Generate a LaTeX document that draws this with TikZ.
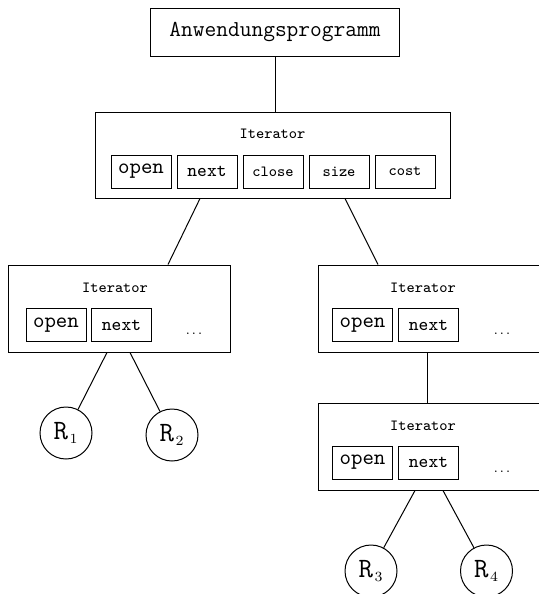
\documentclass[tikz,border=0pt]{standalone}
\usetikzlibrary{calc}
\newcommand{\fAnw}{\fontsize{11.4}{13}\selectfont\ttfamily}
\newcommand{\fOpen}{\fontsize{10.9}{12}\selectfont\ttfamily}
\newcommand{\fNext}{\fontsize{9.3}{11}\selectfont\ttfamily}
\newcommand{\fSmall}{\fontsize{7.75}{9}\selectfont\ttfamily}
\newcommand{\fDots}{\fontsize{5.7}{7}\selectfont\ttfamily}
\newcommand{\Rsub}[1]{{\fontsize{14}{15}\selectfont\ttfamily R}\kern0.8pt{\fontsize{10.5}{12}\selectfont$_{#1}$}}
\begin{document}
\begin{tikzpicture}[x=0.5pt,y=-0.5pt,
  box/.style={draw, line width=0.5pt, inner sep=0pt, anchor=center},
  subbox/.style={draw, line width=0.5pt, inner sep=0pt, minimum width=30pt, minimum height=16.5pt, anchor=center},
  itbox/.style={draw, line width=0.5pt, inner sep=0pt, minimum width=111pt, minimum height=43.5pt, anchor=center},
  title/.style={inner sep=0pt, font=\fSmall, anchor=center},
  dots/.style={inner sep=0pt, font=\fDots, anchor=center},
  leaf/.style={draw, circle, line width=0.5pt, inner sep=0pt, minimum size=26pt, anchor=center},
  conn/.style={line width=0.5pt}]
\useasboundingbox (0,0) rectangle (538,594);

% top
\node[box, minimum width=124.5pt, minimum height=24pt, font=\fAnw] (app) at (275,32) {Anwendungsprogramm};

% main iterator
\node[box, minimum width=177.5pt, minimum height=43pt] (it0) at (272.5,155) {};
\node[title] (t0) at (272.5,134) {Iterator};
\node[subbox, font=\fOpen] (o0) at (141,171.5) {open};
\node[subbox, font=\fNext] (n0) at (207,171.5) {next};
\node[subbox, font=\fSmall] (c0) at (273,171.5) {close};
\node[subbox, font=\fSmall] (s0) at (339,171.5) {size};
\node[subbox, font=\fSmall] (k0) at (405,171.5) {cost};

% left iterator
\node[itbox] (itL) at (119,308.5) {};
\node[title] (tL) at (115,288) {Iterator};
\node[subbox, font=\fOpen] (oL) at (56,325) {open};
\node[subbox, font=\fNext] (nL) at (121.5,325) {next};
\node[dots] (dL) at (194,334) {...};

% right iterator
\node[itbox] (itR) at (429,308.5) {};
\node[title] (tR) at (423,288) {Iterator};
\node[subbox, font=\fOpen] (oR) at (362.5,325) {open};
\node[subbox, font=\fNext] (nR) at (428.5,325) {next};
\node[dots] (dR) at (502,334) {...};

% lower right iterator
\node[itbox] (itR2) at (429,446.5) {};
\node[title] (tR2) at (423,426) {Iterator};
\node[subbox, font=\fOpen] (oR2) at (362.5,462.5) {open};
\node[subbox, font=\fNext] (nR2) at (428.5,462.5) {next};
\node[dots] (dR2) at (502,472) {...};

% leaves
\node[leaf] (R1) at (66,433) {\Rsub{1}};
\node[leaf] (R2) at (172,435) {\Rsub{2}};
\node[leaf] (R3) at (371,571) {\Rsub{3}};
\node[leaf] (R4) at (486.5,571) {\Rsub{4}};

% connectors
\draw[conn] (app.south) -- (app.south |- it0.north);
\draw[conn] ([xshift=-36.25pt]it0.south) -- ([xshift=24.5pt]itL.north);
\draw[conn] ([xshift=36.25pt]it0.south) -- ([xshift=-25.5pt]itR.north);
\draw[conn] ([xshift=-1pt]itR.south) -- ([xshift=-1pt]itR2.north);
\draw[conn] ([xshift=-6pt]itL.south) -- (R1);
\draw[conn] ([xshift=5.5pt]itL.south) -- (R2);
\draw[conn] ([xshift=-7pt]itR2.south) -- (R3);
\draw[conn] ([xshift=7pt]itR2.south) -- (R4);
\end{tikzpicture}
\end{document}
